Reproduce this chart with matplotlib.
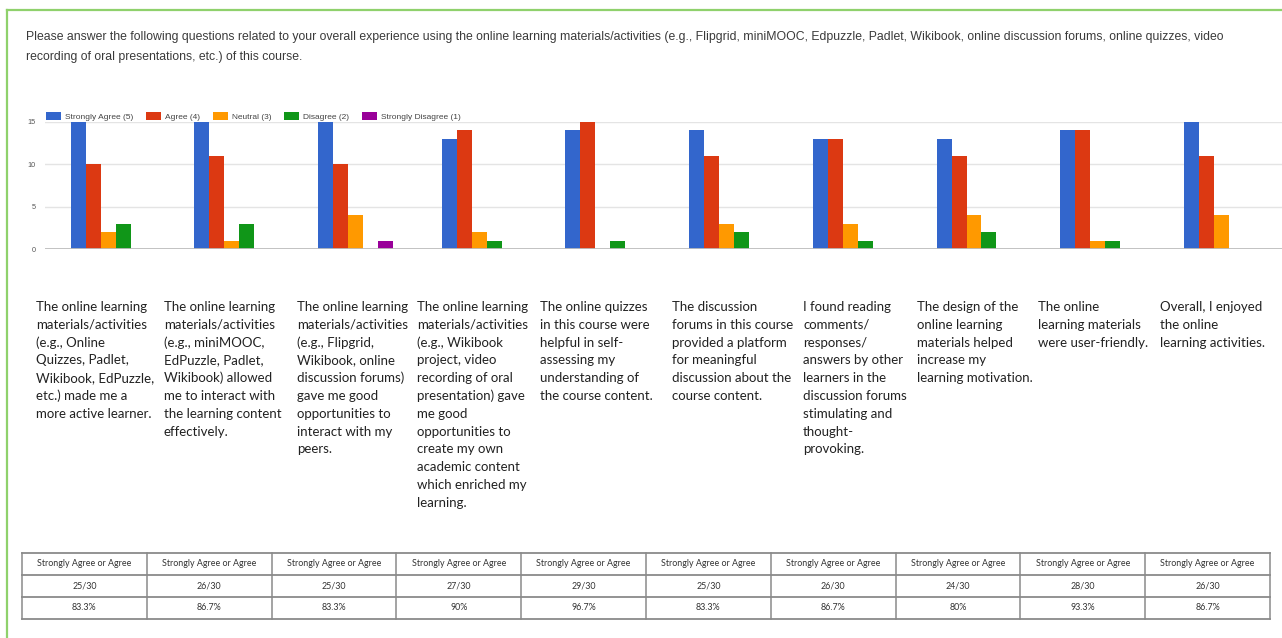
import numpy as np
import matplotlib.pyplot as plt
from matplotlib.lines import Line2D

# survey responses (30 learners), one value per question
strongly_agree = [15, 15, 15, 13, 14, 14, 13, 13, 14, 15]
agree = [10, 11, 10, 14, 15, 11, 13, 11, 14, 11]
neutral = [2, 1, 4, 2, 0, 3, 3, 4, 1, 4]
disagree = [3, 3, 0, 1, 1, 2, 1, 2, 1, 0]
strongly_disagree = [0, 0, 1, 0, 0, 0, 0, 0, 0, 0]
n_total = 30

series_names = ["Strongly Agree (5)", "Agree (4)", "Neutral (3)", "Disagree (2)", "Strongly Disagree (1)"]
series_colors = ["#3366cc", "#dc3912", "#ff9900", "#109618", "#990099"]

questions = [
    "The online learning\nmaterials/activities\n(e.g., Online\nQuizzes, Padlet,\nWikibook, EdPuzzle,\netc.) made me a\nmore active learner.",
    "The online learning\nmaterials/activities\n(e.g., miniMOOC,\nEdPuzzle, Padlet,\nWikibook) allowed\nme to interact with\nthe learning content\neffectively.",
    "The online learning\nmaterials/activities\n(e.g., Flipgrid,\nWikibook, online\ndiscussion forums)\ngave me good\nopportunities to\ninteract with my\npeers.",
    "The online learning\nmaterials/activities\n(e.g., Wikibook\nproject, video\nrecording of oral\npresentation) gave\nme good\nopportunities to\ncreate my own\nacademic content\nwhich enriched my\nlearning.",
    "The online quizzes\nin this course were\nhelpful in self-\nassessing my\nunderstanding of\nthe course content.",
    "The discussion\nforums in this course\nprovided a platform\nfor meaningful\ndiscussion about the\ncourse content.",
    "I found reading\ncomments/\nresponses/\nanswers by other\nlearners in the\ndiscussion forums\nstimulating and\nthought-\nprovoking.",
    "The design of the\nonline learning\nmaterials helped\nincrease my\nlearning motivation.",
    "The online\nlearning materials\nwere user-friendly.",
    "Overall, I enjoyed\nthe online\nlearning activities.",
]
label_x = [36, 164, 297, 417, 540, 672, 803, 917, 1038, 1160]

title = ("Please answer the following questions related to your overall experience using the online learning "
         "materials/activities (e.g., Flipgrid, miniMOOC, Edpuzzle, Padlet, Wikibook, online discussion forums, "
         "online quizzes, video\nrecording of oral presentations, etc.) of this course.")

W, H = 1282, 638
fig = plt.figure(figsize=(W / 100, H / 100), dpi=100)
fig.patch.set_facecolor("white")

# green frame
fig.add_artist(Line2D([7 / W, 7 / W], [0, 1 - 10 / H], color="#8fd16c", lw=1.6))
fig.add_artist(Line2D([7 / W, 1], [1 - 10 / H, 1 - 10 / H], color="#8fd16c", lw=1.6))

for i, line in enumerate(title.split("\n")):
    fig.text(26 / W, 1 - (37 + 20 * i) / H, line, fontsize=8.85, color="#3a3a3a",
             family="Liberation Sans", va="center")

# bar chart
ax_left, ax_right = 45, 1282
y0, y15 = 249, 122
ax = fig.add_axes([ax_left / W, 1 - y0 / H, (ax_right - ax_left) / W, (y0 - y15) / H])
series = [strongly_agree, agree, neutral, disagree, strongly_disagree]
x = np.arange(len(questions))
bw = 0.121
for k, (vals, name, col) in enumerate(zip(series, series_names, series_colors)):
    ax.bar(x + (k - 2) * bw + 0.01, vals, width=bw, color=col, label=name, zorder=3)
ax.set_xlim(-0.5, 9.5)
ax.set_ylim(0, 15)
ax.set_yticks([0, 5, 10, 15])
ax.set_xticks([])
ax.yaxis.grid(True, color="#e4e4e4", lw=1, zorder=0)
ax.axhline(0, color="#bdbdbd", lw=2, zorder=4)
for s in ax.spines.values():
    s.set_visible(False)
ax.tick_params(axis="y", length=0, pad=7, labelsize=5.2, labelcolor="#555555")
for t in ax.get_yticklabels():
    t.set_family("Liberation Sans")
ax.legend(ncol=5, loc="lower left", bbox_to_anchor=(0, 1.0), frameon=False,
          prop={"family": "Liberation Sans", "size": 6.0},
          handlelength=1.8, handleheight=1.0, handletextpad=0.5, columnspacing=1.5,
          borderaxespad=0.15, borderpad=0.0, labelcolor="#444444")

# question labels below the bars
line_h = 17.8
for qx, q in zip(label_x, questions):
    for j, line in enumerate(q.split("\n")):
        fig.text(qx / W, 1 - (307 + j * line_h) / H, line, fontsize=9.5, color="#222222",
                 family="Lato", va="center", ha="left")

# summary table
t_left, t_right = 22, 1270
t_top = 553
row_h = 22
ncol = len(questions)
col_w = (t_right - t_left) / ncol
agree_sum = [a + b for a, b in zip(strongly_agree, agree)]
for r in range(4):
    yy = 1 - (t_top + r * row_h) / H
    fig.add_artist(Line2D([t_left / W, t_right / W], [yy, yy], color="#8a8a8a", lw=1.3))
for c in range(ncol + 1):
    xx = (t_left + c * col_w) / W
    fig.add_artist(Line2D([xx, xx], [1 - t_top / H, 1 - (t_top + 3 * row_h) / H], color="#8a8a8a", lw=1.1))
for c in range(ncol):
    cx = (t_left + (c + 0.5) * col_w) / W
    pct = f"{100 * agree_sum[c] / n_total:.1f}".rstrip("0").rstrip(".") + "%"
    cells = ["Strongly Agree or Agree", f"{agree_sum[c]}/{n_total}", pct]
    for r, txt in enumerate(cells):
        fig.text(cx, 1 - (t_top + (r + 0.5) * row_h) / H, txt, fontsize=6.4, color="#333333",
                 family="Lato", ha="center", va="center")

fig.savefig("out.png", dpi=100, facecolor="white")
